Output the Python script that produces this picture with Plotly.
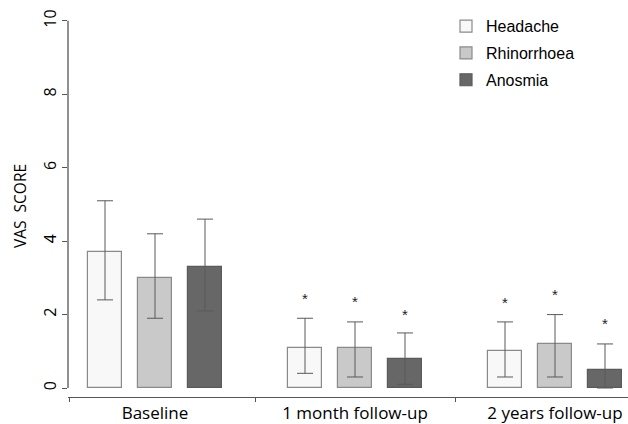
import plotly.graph_objects as go

categories = ["Baseline", "1 month follow-up", "2 years follow-up"]
series_names = ["Headache", "Rhinorrhoea", "Anosmia"]

headache_mean = [3.7, 1.1, 1.0]
headache_upper = [5.1, 1.9, 1.8]
headache_lower = [2.4, 0.4, 0.3]

rhino_mean = [3.0, 1.1, 1.2]
rhino_upper = [4.2, 1.8, 2.0]
rhino_lower = [1.9, 0.3, 0.3]

anosmia_mean = [3.3, 0.8, 0.5]
anosmia_upper = [4.6, 1.5, 1.2]
anosmia_lower = [2.1, 0.1, 0.0]

# significance markers (y position of "*", None = no marker)
headache_sig = [None, 2.38, 2.28]
rhino_sig = [None, 2.3, 2.5]
anosmia_sig = [None, 1.96, 1.7]

y_ticks = [0, 2, 4, 6, 8, 10]

fills = ["#f8f8f8", "#c9c9c9", "#676767"]
borders = ["#8a8a8a", "#8a8a8a", "#5a5a5a"]
offsets = [-0.25, 0.0, 0.25]
bar_w = 0.17

means = [headache_mean, rhino_mean, anosmia_mean]
uppers = [headache_upper, rhino_upper, anosmia_upper]
lowers = [headache_lower, rhino_lower, anosmia_lower]
sigs = [headache_sig, rhino_sig, anosmia_sig]

fig = go.Figure()
for k in range(3):
    xs = [i + offsets[k] for i in range(len(categories))]
    plus = [u - m for u, m in zip(uppers[k], means[k])]
    minus = [m - l for m, l in zip(means[k], lowers[k])]
    fig.add_trace(go.Bar(
        x=xs, y=means[k], width=bar_w, name=series_names[k],
        legendgroup=series_names[k],
        marker=dict(color=fills[k], line=dict(color=borders[k], width=1.2)),
        error_y=dict(type="data", symmetric=False, array=plus, arrayminus=minus,
                     color="#5a5a5a", thickness=1, width=8),
    ))
for k in range(3):
    xs = [i + offsets[k] for i in range(len(categories))]
    fig.add_trace(go.Scatter(
        x=xs, y=sigs[k], mode="text", text=["*" if s is not None else "" for s in sigs[k]],
        textposition="middle center", showlegend=False, hoverinfo="skip",
        textfont=dict(family="Liberation Sans, Arial", size=15, color="#222222"),
    ))

fig.add_shape(type="line", xref="paper", yref="y", x0=0, x1=0, y0=0, y1=10,
              line=dict(color="#555555", width=1.3))

fig.update_layout(
    width=628, height=424,
    margin=dict(l=68, r=0, t=15, b=27),
    paper_bgcolor="white", plot_bgcolor="white",
    showlegend=True,
    legend=dict(x=0.675, y=1.015, xanchor="left", yanchor="top",
                font=dict(family="Liberation Sans, Arial", size=16, color="#000000"),
                tracegroupgap=3, bgcolor="rgba(0,0,0,0)"),
    bargap=0,
)
fig.update_xaxes(
    automargin=False,
    range=[-0.435, 2.365], tickmode="array", tickvals=[0, 1, 2], ticktext=categories,
    ticks="", showline=True, linecolor="#555555", linewidth=1.3, showgrid=False, zeroline=False,
    tickfont=dict(family="Open Sans", size=17, color="#000000"),
    minor=dict(tickmode="array", tickvals=[-0.43, 0.5, 1.5], ticks="outside", ticklen=4,
               tickcolor="#555555", showgrid=False),
)
fig.update_yaxes(
    automargin=False,
    range=[-0.245, 10.16], tickmode="array", tickvals=y_ticks, ticks="outside", ticklen=5,
    tickcolor="#555555", tickangle=-90, showline=False, showgrid=False, zeroline=False,
    tickfont=dict(family="Open Sans", size=16, color="#000000"),
    title=dict(text="VAS  SCORE", font=dict(family="Open Sans", size=15.5, color="#000000"), standoff=8),
)

fig.write_html("out.html")
